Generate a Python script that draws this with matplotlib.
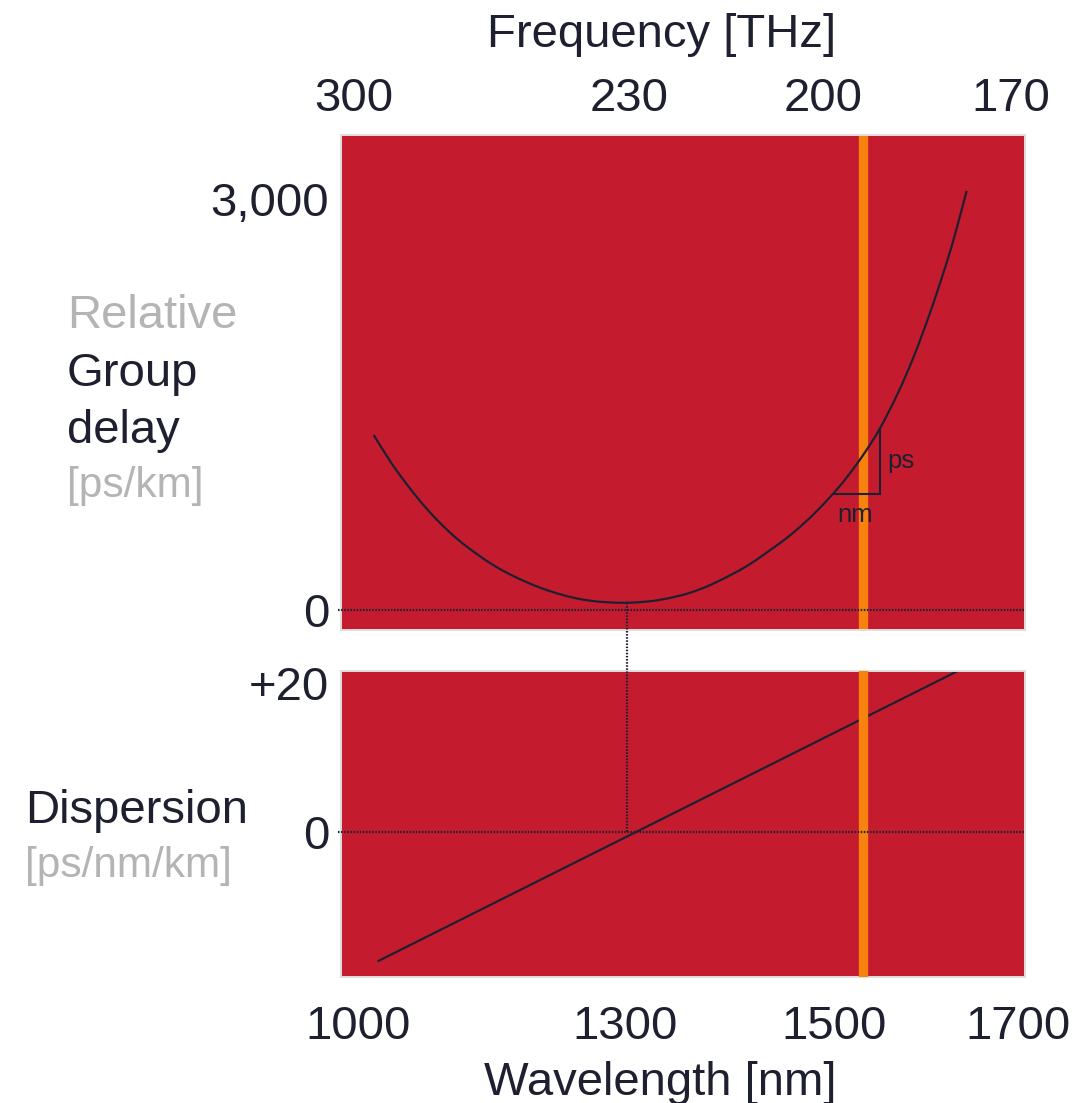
import numpy as np
import matplotlib
matplotlib.use('Agg')
import matplotlib.pyplot as plt
from matplotlib.patches import PathPatch
from matplotlib.path import Path
from matplotlib.lines import Line2D

plt.rcParams['font.family'] = ['Liberation Sans', 'DejaVu Sans']

# ---------------- data ----------------
# relative group delay curve [ps/km] vs wavelength [nm]
DELAY_NM = [1017.6, 1037.1, 1055.8, 1074.5, 1093.3, 1112.0, 1130.7, 1149.4,
            1168.2, 1186.9, 1205.6, 1224.4, 1243.0, 1261.8, 1280.6, 1299.2,
            1315.3, 1331.3, 1347.2, 1363.2, 1384.5, 1416.5, 1448.3, 1464.3,
            1480.2, 1499.3, 1513.8, 1531.8, 1549.2, 1568.2, 1586.2, 1604.3,
            1622.5, 1633.4, 1644.2]
DELAY_PS = [1276, 1075, 908, 758, 627, 515, 421, 338,
            268, 210, 160, 120, 88, 67, 56, 52.5,
            57.6, 71, 95, 128, 192, 320, 488, 585,
            696, 849, 966, 1131, 1315, 1563, 1839, 2165,
            2533, 2784, 3055]
# dispersion line [ps/nm/km]
DISP_NM = [1023, 1634.5]
DISP_VAL = [-17.3, 21.6]
ZERO_DISP_NM = 1302
ZERO_DISP_DELAY = 53
SIGNAL_NM = 1532
# slope triangle
SLOPE_NM = [1500, 1550]
SLOPE_PS = [849, 1318]

WL_TICKS = [1000, 1300, 1500, 1700]
WL_LABELS = ['1000', '1300', '1500', '1700']
FREQ_TICK_NM = [995, 1304, 1490, 1692]
FREQ_LABELS = ['300', '230', '200', '170']
DELAY_TICKS = [0, 3000]
DELAY_LABELS = ['0', '3,000']
DISP_TICKS = [0, 20]
DISP_LABELS = ['0', '+20']

# ---------------- style ----------------
W, H = 1092, 1103
RED = '#c41c2e'
ORANGE = '#f7820e'
DARK = '#1e2030'
GREY = '#b4b4b4'
BORDER = '#dedede'
FS = 34
FS_UNIT = 30.5
DOT = (0, (0.7, 0.7))

# piecewise-linear wavelength scale (schematic axis)
ANCH_NM = np.array([1000., 1300., 1500., 1700.])
ANCH_U = np.array([358., 625., 834., 1018.])


def _pw(x, xa, ya):
    x = np.asarray(x, dtype=float)
    y = np.interp(x, xa, ya)
    s0 = (ya[1] - ya[0]) / (xa[1] - xa[0])
    s1 = (ya[-1] - ya[-2]) / (xa[-1] - xa[-2])
    y = np.where(x < xa[0], ya[0] + (x - xa[0]) * s0, y)
    y = np.where(x > xa[-1], ya[-1] + (x - xa[-1]) * s1, y)
    return y


def fwd(x):
    return _pw(x, ANCH_NM, ANCH_U)


def inv(u):
    return _pw(u, ANCH_U, ANCH_NM)


def smooth_path(xs, ys):
    """Catmull-Rom curve through the given points, as cubic Bezier segments."""
    P = np.column_stack([xs, ys]).astype(float)
    n = len(P)
    verts = [P[0]]
    codes = [Path.MOVETO]
    for i in range(n - 1):
        p0 = P[i - 1] if i > 0 else P[i]
        p1 = P[i]
        p2 = P[i + 1]
        p3 = P[i + 2] if i + 2 < n else P[i + 1]
        verts += [p1 + (p2 - p0) / 6, p2 - (p3 - p1) / 6, p2]
        codes += [Path.CURVE4] * 3
    return Path(verts, codes)


fig = plt.figure(figsize=(W / 100, H / 100), dpi=100)


def fx(px):
    return px / W


def fy(py):
    return 1 - py / H


ax1 = fig.add_axes([fx(341), fy(630), 684 / W, 495 / H])
ax2 = fig.add_axes([fx(341), fy(977), 684 / W, 306 / H])

for ax in (ax1, ax2):
    ax.set_xscale('function', functions=(fwd, inv))
    ax.set_xlim(inv(341.0), inv(1025.0))
    ax.set_facecolor(RED)
    for s in ax.spines.values():
        s.set_color(BORDER)
        s.set_linewidth(1.4)
    ax.tick_params(length=0, labelsize=FS, labelcolor=DARK, pad=8.5)

# top panel
ax1.set_ylim(-146, 3463)
ax1.axvline(SIGNAL_NM, ymin=0, ymax=0.992, color=ORANGE, lw=6.7, zorder=2)
ax1.axhline(0, xmin=-0.005, xmax=1, color=DARK, lw=1.6, ls=DOT,
            clip_on=False, zorder=3)
# smooth curve built in scaled coordinates (affine part of transData)
curve = smooth_path(fwd(DELAY_NM), DELAY_PS)
ax1.add_patch(PathPatch(curve, facecolor='none', edgecolor=DARK, lw=1.6,
                        zorder=4, capstyle='butt',
                        transform=ax1.transLimits + ax1.transAxes))
ax1.plot([SLOPE_NM[0], SLOPE_NM[1], SLOPE_NM[1]],
         [SLOPE_PS[0], SLOPE_PS[0], SLOPE_PS[1]], color=DARK, lw=1.5,
         zorder=4, solid_joinstyle='miter')
ax1.text(SLOPE_NM[1] + 8, (SLOPE_PS[0] + SLOPE_PS[1]) / 2, 'ps', fontsize=18.5,
         color=DARK, ha='left', va='center', zorder=5)
ax1.text((SLOPE_NM[0] + SLOPE_NM[1]) / 2 - 2, SLOPE_PS[0] - 70, 'nm',
         fontsize=18.5, color=DARK, ha='center', va='top', zorder=5)
ax1.xaxis.tick_top()
ax1.set_xticks(FREQ_TICK_NM, FREQ_LABELS)
ax1.set_yticks(DELAY_TICKS, DELAY_LABELS)
ax1.tick_params(axis='x', pad=10)

# bottom panel
ax2.set_ylim(-19.46, 21.6)
ax2.plot(DISP_NM, DISP_VAL, color=DARK, lw=1.6, zorder=2)
ax2.axvline(SIGNAL_NM, ymin=0, ymax=0.99, color=ORANGE, lw=6.7, zorder=3)
ax2.axhline(0, xmin=-0.005, xmax=1, color=DARK, lw=1.6, ls=DOT,
            clip_on=False, zorder=4)
ax2.set_xticks(WL_TICKS, WL_LABELS)
ax2.set_yticks(DISP_TICKS, DISP_LABELS)
ax2.tick_params(axis='x', pad=20)

# connector: zero dispersion wavelength (from curve minimum to zero line)
pA = ax1.transData.transform((ZERO_DISP_NM, ZERO_DISP_DELAY))
pB = ax2.transData.transform((ZERO_DISP_NM, 0))
fA = fig.transFigure.inverted().transform(pA)
fB = fig.transFigure.inverted().transform(pB)
fig.add_artist(Line2D([fA[0], fB[0]], [fA[1], fB[1]], transform=fig.transFigure,
                      color=DARK, lw=1.6, ls=DOT, zorder=6))

# axis titles
fig.text(fx(662), fy(47), 'Frequency [THz]', fontsize=FS, color=DARK,
         ha='center', va='baseline')
fig.text(fx(660), fy(1095), 'Wavelength [nm]', fontsize=FS, color=DARK,
         ha='center', va='baseline')

# left labels
fig.text(fx(67), fy(328), 'Relative', fontsize=FS, color=GREY, va='baseline')
fig.text(fx(67), fy(386), 'Group', fontsize=FS, color=DARK, va='baseline')
fig.text(fx(67), fy(443), 'delay', fontsize=FS, color=DARK, va='baseline')
fig.text(fx(67), fy(497), '[ps/km]', fontsize=FS_UNIT, color=GREY, va='baseline')
fig.text(fx(25), fy(823), 'Dispersion', fontsize=FS, color=DARK, va='baseline')
fig.text(fx(25), fy(877), '[ps/nm/km]', fontsize=FS_UNIT, color=GREY, va='baseline')

fig.savefig('out.png', dpi=100)
